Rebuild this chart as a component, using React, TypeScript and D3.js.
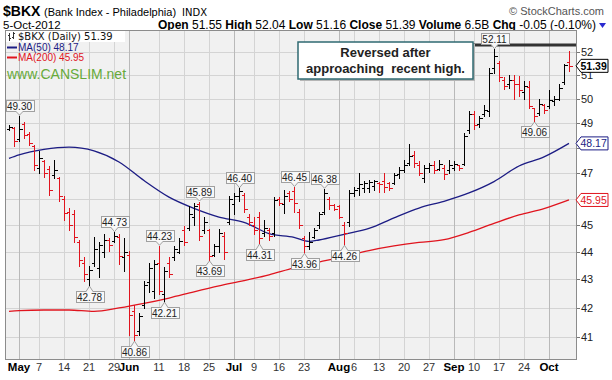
import React from "react";
import * as d3 from "d3";

// ---------- data ----------
const dates = [
  "04-27","04-30",
  "05-01","05-02","05-03","05-04",
  "05-07","05-08","05-09","05-10","05-11",
  "05-14","05-15","05-16","05-17","05-18",
  "05-21","05-22","05-23","05-24","05-25",
  "05-29","05-30","05-31",
  "06-01",
  "06-04","06-05","06-06","06-07","06-08",
  "06-11","06-12","06-13","06-14","06-15",
  "06-18","06-19","06-20","06-21","06-22",
  "06-25","06-26","06-27","06-28","06-29",
  "07-02","07-03","07-05","07-06",
  "07-09","07-10","07-11","07-12","07-13",
  "07-16","07-17","07-18","07-19","07-20",
  "07-23","07-24","07-25","07-26","07-27",
  "07-30","07-31",
  "08-01","08-02","08-03",
  "08-06","08-07","08-08","08-09","08-10",
  "08-13","08-14","08-15","08-16","08-17",
  "08-20","08-21","08-22","08-23","08-24",
  "08-27","08-28","08-29","08-30","08-31",
  "09-04","09-05","09-06","09-07",
  "09-10","09-11","09-12","09-13","09-14",
  "09-17","09-18","09-19","09-20","09-21",
  "09-24","09-25","09-26","09-27","09-28",
  "10-01","10-02","10-03","10-04","10-05",
];

const opens = [
  48.75,48.80,
  48.35,48.95,48.55,48.05,
  47.20,47.45,47.15,46.90,46.80,
  46.00,45.50,45.40,44.35,43.60,
  43.00,43.60,43.40,44.00,44.45,
  44.40,44.55,43.80,
  43.90,
  41.90,41.20,42.10,42.90,42.60,
  43.60,42.50,43.60,43.80,44.00,
  44.80,44.90,45.30,45.80,44.80,
  44.80,43.90,44.20,44.60,45.10,
  45.80,46.10,46.15,45.30,
  45.00,45.30,44.70,44.80,44.70,
  46.00,45.80,46.20,46.30,45.50,
  44.50,44.20,44.55,45.00,45.50,
  46.00,45.75,
  45.70,45.00,45.10,
  46.20,46.40,46.40,46.40,46.50,
  46.60,46.70,46.60,46.60,46.95,
  47.10,47.40,47.70,47.30,46.80,
  47.20,47.30,47.15,47.20,47.10,
  47.20,47.30,47.35,48.70,
  49.35,48.95,49.35,49.50,51.30,
  51.50,50.80,50.60,50.80,50.60,
  50.30,50.50,49.60,49.40,49.75,
  49.70,49.90,50.00,50.70,51.55,
];

const highs = [
  48.92,48.85,
  49.30,49.05,48.65,48.12,
  47.85,47.50,47.28,47.50,46.85,
  46.10,45.65,45.57,44.45,43.80,
  43.50,44.55,44.35,44.65,44.53,
  44.73,44.65,44.50,
  44.05,
  42.10,41.81,42.95,43.60,43.70,
  44.23,43.45,43.80,44.20,44.50,
  44.95,45.70,45.85,45.89,45.30,
  44.85,44.30,44.85,44.75,46.10,
  46.20,46.40,46.20,45.40,
  45.30,45.50,45.20,44.90,46.05,
  46.05,46.35,46.30,46.45,45.60,
  44.60,44.75,44.90,45.50,46.38,
  46.05,45.80,
  45.75,45.10,46.35,
  46.45,47.00,46.70,46.72,46.72,
  46.65,47.00,46.65,47.00,47.25,
  47.50,48.15,47.85,47.45,47.30,
  47.40,47.45,47.50,47.30,47.50,
  47.45,47.30,48.60,49.50,
  49.50,49.30,49.75,51.30,52.11,
  51.60,50.90,51.00,51.00,50.95,
  50.75,50.75,49.60,50.00,49.80,
  50.37,50.10,50.60,51.45,52.04,
];

const lows = [
  48.71,48.05,
  48.27,48.40,48.12,47.12,
  47.00,46.85,46.14,46.80,45.90,
  45.20,44.82,44.35,43.50,42.95,
  42.78,43.50,43.10,43.81,44.05,
  44.35,43.57,43.30,
  41.05,
  40.86,41.05,42.00,42.55,42.35,
  42.50,42.21,43.10,43.70,43.95,
  44.26,44.80,45.00,44.45,44.70,
  43.69,43.85,44.00,43.75,45.05,
  45.40,45.90,45.50,45.00,
  44.65,44.31,44.60,44.45,44.60,
  45.75,45.45,45.90,45.50,44.90,
  43.96,44.10,44.50,44.90,45.40,
  45.60,45.55,
  45.25,44.26,44.95,
  46.10,46.15,46.25,46.27,46.35,
  46.25,46.25,46.35,46.55,46.80,
  47.05,47.30,47.25,46.90,46.65,
  47.05,47.00,47.10,46.75,47.00,
  47.10,47.10,47.30,48.60,
  48.75,48.85,49.30,49.30,51.10,
  50.75,50.40,50.45,50.00,50.10,
  50.00,49.60,49.06,49.33,49.40,
  49.60,49.75,49.95,50.60,51.16,
];

const closes = [
  48.85,48.25,
  48.75,48.50,48.20,47.30,
  47.60,47.00,46.35,47.10,46.10,
  45.45,45.00,44.55,43.70,43.20,
  43.35,44.10,44.25,44.45,44.25,
  44.60,43.85,44.00,
  41.75,
  41.05,41.70,42.80,43.40,43.55,
  42.60,43.30,43.20,44.10,44.40,
  44.35,45.40,45.70,44.60,45.10,
  43.85,44.20,44.70,44.00,46.00,
  46.10,46.30,45.60,45.10,
  44.80,44.50,44.90,44.60,45.95,
  45.85,46.10,46.00,45.85,45.00,
  44.20,44.35,44.80,45.40,46.20,
  45.75,45.60,
  45.30,44.70,46.20,
  46.35,46.55,46.60,46.65,46.70,
  46.55,46.45,46.40,46.90,47.10,
  47.30,47.65,47.40,47.00,47.20,
  47.30,47.10,47.35,46.95,47.30,
  47.35,47.20,48.45,49.35,
  48.90,49.20,49.55,51.10,51.80,
  50.90,50.55,50.80,50.60,50.35,
  50.55,49.70,49.30,49.80,49.55,
  49.95,50.00,50.45,51.44,51.39,
];

// moving averages, read at roughly weekly points
const maDates = ["04-27","05-01","05-08","05-15","05-22","05-30","06-06","06-13","06-20","06-27",
  "07-05","07-12","07-19","07-24","07-26","08-02","08-09","08-16","08-23","08-30",
  "09-07","09-14","09-21","09-28","10-05"];
const ma50 = [47.57,47.71,47.93,48.02,47.87,47.43,46.70,46.06,45.63,45.30,
  45.10,44.68,44.54,44.39,44.44,44.65,44.87,45.27,45.64,45.90,
  46.22,46.66,47.27,47.63,48.17];
const ma200 = [41.87,41.90,41.92,41.92,41.87,41.99,42.15,42.34,42.56,42.77,
  42.96,43.17,43.42,43.55,43.63,43.83,44.05,44.22,44.35,44.45,
  44.72,45.06,45.38,45.62,45.95];

const yTicks = [41,42,43,44,45,46,47,48,49,50,51,52];
const yTickLabelsShown = [41,42,43,44,45,47,49,50,51,52];
const xTickDates = ["05-01","05-07","05-14","05-21","05-29","06-01","06-11","06-18","06-25",
  "07-02","07-09","07-16","07-23","08-01","08-06","08-13","08-20","08-27",
  "09-04","09-10","09-17","09-24","10-01"];
const xTickLabels = ["May","7","14","21","29","Jun","11","18","25",
  "Jul","9","16","23","Aug","6","13","20","27",
  "Sep","10","17","24","Oct"];
const monthLabels = ["May","Jun","Jul","Aug","Sep","Oct"];

const labelDates = ["05-01","05-21","05-29","06-04","06-11","06-12","06-21","06-25",
  "07-03","07-10","07-19","07-23","07-27","08-02","09-14","09-26"];
const labelKinds = ["high","low","high","low","high","low","high","low",
  "high","low","high","low","high","low","high","low"];

const resistanceLevel = 52.29;
const lastClose = 51.39;
const lastMa50 = 48.17;
const lastMa200 = 45.95;

// ---------- component ----------
export default function App() {
  const W = 612, H = 380;
  const pl = 5, pr = 577, pt = 30, pb = 359;
  const x = d3.scalePoint<string>().domain(dates).range([9, 569]);
  const y = d3.scaleLog().domain([40.24, 52.95]).range([pb, pt]);
  const px = (d: string) => Math.round(x(d) as number) + 0.5;
  const py = (v: number) => Math.round(y(v)) + 0.5;

  const maLine = d3.line<number>()
    .x((_, i) => x(maDates[i]) as number)
    .y((v) => y(v))
    .curve(d3.curveMonotoneX);

  const red = "#e0141e";
  const navy = "#1c1c84";
  const font = "'Liberation Sans', Arial, sans-serif";

  const bars = dates.map((d, i) => {
    const xi = px(d);
    const up = i === 0 ? true : closes[i] >= closes[i - 1];
    const c = up ? "#000" : red;
    const yo = py(opens[i]), yc = py(closes[i]);
    return (
      <g key={d} stroke={c} strokeWidth={1} shapeRendering="crispEdges">
        <line x1={xi} x2={xi} y1={Math.round(y(highs[i]))} y2={Math.round(y(lows[i])) + 1} />
        <line x1={xi - 2.5} x2={xi} y1={yo} y2={yo} />
        <line x1={xi} x2={xi + 3} y1={yc} y2={yc} />
      </g>
    );
  });

  const labels = labelDates.map((d, k) => {
    const i = dates.indexOf(d);
    const xi = px(d);
    const isHigh = labelKinds[k] === "high";
    const v = isHigh ? highs[i] : lows[i];
    const bw = 28, bh = 11;
    const yv = y(v);
    let boxTop: number, tipY: number, baseY: number;
    if (isHigh) {
      boxTop = Math.round(yv - 5 - bh) + 0.5;
      baseY = boxTop + bh;
      tipY = yv - 0.5;
    } else {
      boxTop = Math.round(yv + 5) + 0.5;
      baseY = boxTop;
      tipY = yv + 0.5;
    }
    const bx = Math.round(xi - bw / 2) + 0.5;
    return (
      <g key={"lab" + d}>
        <path d={`M${xi - 3.5},${baseY} L${xi},${tipY} L${xi + 3.5},${baseY}`} fill="#f6f6f6" stroke="#a0a0a0" strokeWidth={1} />
        <rect x={bx} y={boxTop} width={bw} height={bh} fill="#f8f8f8" stroke="#a0a0a0" strokeWidth={1} />
        <line x1={xi - 3} x2={xi + 3} y1={baseY} y2={baseY} stroke="#f8f8f8" strokeWidth={1} />
        <text x={xi} y={boxTop + 9} textAnchor="middle" fontSize={10} fontFamily={font} fill="#222">{v.toFixed(2)}</text>
      </g>
    );
  });

  const tag = (v: number, color: string, bold: boolean, key: string) => {
    const yc = y(v);
    const h = 6.5;
    return (
      <g key={key}>
        <path d={`M${pr - 1},${yc} L${pr + 4},${yc - h} L${608},${yc - h} L${608},${yc + h} L${pr + 4},${yc + h} Z`} fill="#fff" stroke={color} strokeWidth={1} />
        <text x={580.5} y={yc + 4} fontSize={10.5} fontFamily={font} fontWeight={bold ? "bold" : "normal"} fill={color}>{v.toFixed(2)}</text>
      </g>
    );
  };

  return (
    <svg width={W} height={H} style={{ position: "absolute", left: 0, top: 0, background: "#fff" }} fontFamily={font}>
      {/* header */}
      <text x={3} y={16} fontSize={14} fontWeight="bold" fill="#000">$BKX</text>
      <text x={44} y={16} fontSize={11} fill="#000">(Bank Index - Philadelphia)</text>
      <text x={182} y={16} fontSize={10} fill="#000" fontFamily="'DejaVu Sans', sans-serif">INDX</text>
      <text x={604} y={15} fontSize={11} fill="#555" textAnchor="end">© StockCharts.com</text>
      <text x={3} y={29} fontSize={11.5} fill="#000">5-Oct-2012</text>
      <text x={596} y={29} fontSize={12} fill="#000" textAnchor="end" style={{ whiteSpace: "pre" }}>
        <tspan fontWeight="bold">Open</tspan><tspan> 51.55 </tspan>
        <tspan fontWeight="bold">High</tspan><tspan> 52.04 </tspan>
        <tspan fontWeight="bold">Low</tspan><tspan> 51.16 </tspan>
        <tspan fontWeight="bold">Close</tspan><tspan> 51.39 </tspan>
        <tspan fontWeight="bold">Volume</tspan><tspan> 6.5B </tspan>
        <tspan fontWeight="bold">Chg</tspan><tspan> -0.05 (-0.10%)</tspan>
      </text>
      <path d="M599,23 L606,23 L602.5,28 Z" fill="#2a2ad0" />

      {/* plot background */}
      <rect x={pl} y={pt} width={pr - pl} height={pb - pt} fill="#f1f1f1" />
      {yTicks.map((t) => (
        <line key={"gy" + t} x1={pl} x2={pr} y1={py(t)} y2={py(t)} stroke="#d4d4d4" shapeRendering="crispEdges" />
      ))}
      {xTickDates.map((d, k) => (
        <line key={"gx" + d} x1={px(d)} x2={px(d)} y1={pt} y2={pb}
          stroke={monthLabels.includes(xTickLabels[k]) ? "#b9b9b9" : "#d4d4d4"} shapeRendering="crispEdges" />
      ))}

      {/* moving averages */}
      <path d={maLine(ma200) as string} fill="none" stroke={red} strokeWidth={1.3} />
      <path d={maLine(ma50) as string} fill="none" stroke={navy} strokeWidth={1.3} />

      {/* bars */}
      {bars}

      {/* resistance line + note */}
      <line x1={299} x2={pr} y1={y(resistanceLevel)} y2={y(resistanceLevel)} stroke="#333" strokeWidth={3} />
      <rect x={300} y={44} width={175} height={37} fill="#b5b5b5" />
      <rect x={298} y={42} width={175} height={37} fill="#fff" stroke="#2f6a72" strokeWidth={1.5} />
      <text x={385.5} y={57} textAnchor="middle" fontSize={13} fontWeight="bold" fill="#222">Reversed after</text>
      <text x={385.5} y={73} textAnchor="middle" fontSize={13} fontWeight="bold" fill="#222" style={{ whiteSpace: "pre" }}>approaching  recent high.</text>

      {/* value labels */}
      {labels}

      {/* frame */}
      <rect x={pl + 0.5} y={pt + 0.5} width={pr - pl - 1} height={pb - pt} fill="none" stroke="#8c8c8c" strokeWidth={1} shapeRendering="crispEdges" />

      {/* legend */}
      <rect x={6} y={31} width={119} height={11} fill="#fff" />
      <g stroke="#333" strokeWidth={1} shapeRendering="crispEdges">
        <line x1={9.5} x2={9.5} y1={33} y2={41} />
        <line x1={8} x2={9.5} y1={35.5} y2={35.5} />
        <line x1={9.5} x2={11} y1={38.5} y2={38.5} />
        <line x1={13.5} x2={13.5} y1={32} y2={39} />
        <line x1={12} x2={13.5} y1={37.5} y2={37.5} />
        <line x1={13.5} x2={15} y1={33.5} y2={33.5} />
      </g>
      <text x={18} y={40} fontSize={10} fontFamily="'DejaVu Sans', sans-serif" fill="#111">$BKX (Daily) 51.39</text>
      <line x1={7} x2={17} y1={47.5} y2={47.5} stroke={navy} strokeWidth={2} />
      <text x={18} y={51} fontSize={10} fill={navy}>MA(50) 48.17</text>
      <line x1={7} x2={17} y1={57.5} y2={57.5} stroke={red} strokeWidth={2} />
      <text x={18} y={61} fontSize={10} fill={red}>MA(200) 45.95</text>
      <text x={7} y={79} fontSize={14} fill="#66aa3a">www.CANSLIM.net</text>

      {/* right axis */}
      {yTicks.map((t) => (
        <line key={"yt" + t} x1={pr} x2={pr + 3} y1={py(t)} y2={py(t)} stroke="#777" shapeRendering="crispEdges" />
      ))}
      {yTickLabelsShown.map((t) => (
        <text key={"ya" + t} x={581} y={y(t) + 4} fontSize={11} fill="#222">{t}</text>
      ))}
      {tag(lastMa50, navy, false, "t50")}
      {tag(lastMa200, red, false, "t200")}
      {tag(lastClose, "#000", true, "tc")}

      {/* x axis */}
      {xTickDates.map((d, k) => {
        const isMonth = monthLabels.includes(xTickLabels[k]);
        return (
          <text key={"xl" + d} x={x(d) as number} y={371} textAnchor="middle"
            fontSize={isMonth ? 11.5 : 11} fontWeight={isMonth ? "bold" : "normal"} fill={isMonth ? "#000" : "#333"}>
            {xTickLabels[k]}
          </text>
        );
      })}
    </svg>
  );
}
